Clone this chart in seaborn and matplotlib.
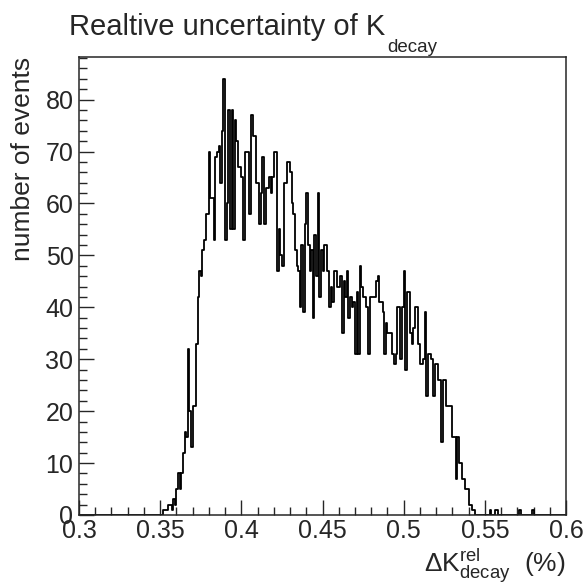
import numpy as np
import matplotlib
matplotlib.use("Agg")
import matplotlib.pyplot as plt
from matplotlib.ticker import MultipleLocator, FuncFormatter
import seaborn as sns

# histogram: 300 bins of 0.001 between 0.3 and 0.6
x_lo, x_hi, n_bins = 0.3, 0.6, 300

# counts per bin, starting at the bin 0.350-0.351
first_bin = 0.350
counts = [
    0, 0, 1, 1, 1, 2, 2, 1, 3, 2,
    5, 8, 5, 8, 12, 16, 15, 32, 20, 13,
    21, 21, 33, 42, 47, 46, 51, 53, 58, 58,
    70, 61, 61, 53, 69, 70, 71, 64, 74, 84,
    53, 60, 78, 55, 78, 55, 76, 72, 67, 67,
    65, 53, 70, 70, 70, 58, 77, 73, 73, 64,
    64, 56, 62, 69, 56, 63, 63, 65, 62, 65,
    70, 70, 47, 55, 50, 48, 64, 64, 68, 68,
    66, 60, 58, 51, 48, 47, 40, 52, 39, 56,
    62, 52, 47, 51, 38, 54, 46, 62, 42, 51,
    47, 52, 52, 47, 40, 44, 41, 47, 47, 44,
    44, 46, 35, 45, 42, 47, 38, 42, 40, 41,
    31, 43, 31, 48, 44, 42, 42, 40, 31, 42,
    42, 42, 42, 45, 46, 41, 41, 39, 31, 37,
    35, 35, 35, 31, 29, 31, 40, 40, 30, 40,
    47, 28, 43, 43, 35, 33, 36, 40, 40, 33,
    29, 29, 30, 39, 23, 31, 31, 30, 23, 29,
    29, 26, 26, 14, 26, 26, 21, 21, 21, 21,
    15, 15, 7, 15, 10, 10, 7, 7, 5, 5,
    2, 2, 1, 1, 0,
]
# isolated single entries in the tail
tail_bins = [0.553, 0.556, 0.557, 0.571, 0.579]
tail_counts = [1, 1, 1, 1, 1]

xticks = [0.3, 0.35, 0.4, 0.45, 0.5, 0.55, 0.6]
yticks = [0, 10, 20, 30, 40, 50, 60, 70, 80]

width = (x_hi - x_lo) / n_bins
weights = np.zeros(n_bins)
i0 = int(round((first_bin - x_lo) / width))
weights[i0:i0 + len(counts)] = counts
for b, c in zip(tail_bins, tail_counts):
    weights[int(round((b - x_lo) / width))] += c
centers = x_lo + (np.arange(n_bins) + 0.5) * width

sns.set_style("ticks")
plt.rcParams["font.family"] = ["Liberation Sans", "DejaVu Sans"]
plt.rcParams["mathtext.fontset"] = "custom"
plt.rcParams["mathtext.rm"] = "Liberation Sans"
plt.rcParams["mathtext.it"] = "Liberation Sans"
plt.rcParams["xtick.direction"] = "in"
plt.rcParams["ytick.direction"] = "in"

fig = plt.figure(figsize=(5.84, 5.87), dpi=100)
ax = fig.add_axes([79 / 584, 1 - 515 / 587, 487 / 584, 458 / 587])

sns.histplot(x=centers, weights=weights, bins=n_bins, binrange=(x_lo, x_hi),
             element="step", fill=False, color="black", linewidth=1.3, ax=ax)

ax.set_xlim(x_lo, x_hi)
ax.set_ylim(0, 88.2)
ax.set_xticks(xticks)
ax.set_yticks(yticks)
ax.xaxis.set_minor_locator(MultipleLocator(0.01))
ax.yaxis.set_minor_locator(MultipleLocator(2))
ax.xaxis.set_major_formatter(FuncFormatter(lambda v, p: "%g" % round(v, 3)))
ax.tick_params(which="major", length=10.5, width=1.0, labelsize=18, pad=4)
ax.tick_params(which="minor", length=5.5, width=1.0)
ax.tick_params(axis="x", pad=3)
for s in ax.spines.values():
    s.set_linewidth(1.1)
    s.set_visible(True)
ax.set_xlabel("")
ax.set_ylabel("")

fig.text(23 / 584, 1 - 57 / 587, "number of events", rotation=90,
         ha="center", va="top", fontsize=19)
fig.text(566 / 584, 1 - 566 / 587,
         r"$\mathregular{\Delta K}^{\mathregular{rel}}_{\mathregular{decay}}$  (%)",
         ha="right", va="center", fontsize=19)

title = fig.text(69 / 584, 1 - 35 / 587, "Realtive uncertainty of K",
                 ha="left", va="baseline", fontsize=21)
fig.canvas.draw()
bb = title.get_window_extent().transformed(fig.transFigure.inverted())
fig.text(bb.x1 + 2 / 584, 1 - 52 / 587, "decay", ha="left", va="baseline",
         fontsize=13.5)

fig.savefig("out.png", dpi=100)
